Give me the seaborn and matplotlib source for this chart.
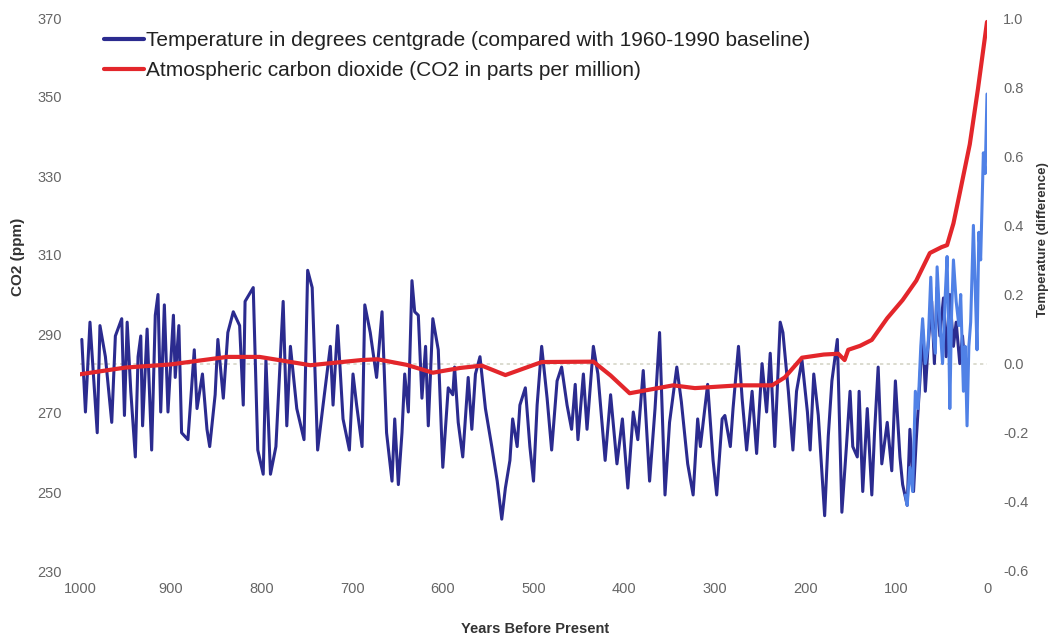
import matplotlib
matplotlib.use("Agg")
import matplotlib.pyplot as plt
from matplotlib.lines import Line2D
import seaborn as sns
import pandas as pd

# ---- data ----
proxy_years = [998, 994, 989, 981, 978, 972, 965, 961, 954, 951, 948, 944, 939, 936, 933, 931,
               926, 921, 917, 914, 911, 907, 903, 897, 895, 891, 888, 881, 874, 871, 865, 860,
               857, 851, 848, 842, 837, 831, 824, 820, 818, 809, 804, 798, 795, 790, 784, 776,
               772, 768, 761, 753, 749, 744, 738, 732, 724, 721, 716, 710, 703, 699, 695, 689,
               686, 680, 673, 667, 662, 656, 653, 649, 645, 642, 638, 634, 631, 627, 623, 619,
               616, 611, 605, 600, 594, 589, 587, 583, 578, 572, 568, 564, 559, 553, 546, 540,
               535, 531, 526, 523, 518, 515, 509, 504, 500, 496, 491, 485, 480, 474, 469, 463,
               458, 454, 451, 445, 441, 434, 429, 421, 415, 408, 402, 396, 390, 385, 379, 372,
               366, 361, 355, 350, 342, 337, 330, 324, 319, 316, 308, 302, 298, 292, 289, 283,
               280, 274, 270, 265, 259, 254, 248, 243, 239, 234, 228, 225, 219, 214, 210, 204,
               198, 195, 191, 186, 179, 175, 171, 165, 160, 155, 151, 148, 143, 141, 137, 132,
               127, 124, 120, 116, 110, 105, 101, 96, 93, 88, 85, 81, 78, 74, 71, 68,
               65, 61, 58, 55, 52, 48, 45, 41, 37, 34, 30, 27, 24]
proxy_temp = [0.07, -0.14, 0.12, -0.20, 0.11, 0.02, -0.17, 0.08, 0.13, -0.15, 0.12, -0.08, -0.27, 0.02, 0.08, -0.18,
              0.10, -0.25, 0.14, 0.20, -0.14, 0.17, -0.14, 0.14, -0.04, 0.11, -0.20, -0.22, 0.04, -0.13, -0.03, -0.19,
              -0.24, -0.09, 0.07, -0.10, 0.09, 0.15, 0.11, -0.12, 0.18, 0.22, -0.25, -0.32, 0.01, -0.32, -0.24, 0.18,
              -0.18, 0.05, -0.13, -0.22, 0.27, 0.22, -0.25, -0.12, 0.05, -0.12, 0.11, -0.16, -0.25, -0.03, -0.12, -0.24,
              0.17, 0.09, -0.04, 0.15, -0.20, -0.34, -0.16, -0.35, -0.20, -0.03, -0.14, 0.24, 0.15, 0.14, -0.10, 0.05,
              -0.18, 0.13, 0.04, -0.30, -0.07, -0.09, -0.01, -0.17, -0.27, -0.04, -0.19, -0.03, 0.02, -0.13, -0.24, -0.34,
              -0.45, -0.36, -0.28, -0.16, -0.24, -0.12, -0.07, -0.24, -0.34, -0.12, 0.05, -0.10, -0.25, -0.05, -0.01, -0.12,
              -0.19, -0.06, -0.22, -0.03, -0.19, 0.05, -0.03, -0.28, -0.09, -0.29, -0.16, -0.36, -0.14, -0.22, -0.02, -0.34,
              -0.13, 0.09, -0.38, -0.17, -0.01, -0.11, -0.29, -0.38, -0.16, -0.24, -0.06, -0.28, -0.38, -0.16, -0.15, -0.24,
              -0.13, 0.05, -0.10, -0.25, -0.08, -0.26, 0.00, -0.14, 0.03, -0.24, 0.12, 0.09, -0.08, -0.25, -0.08, 0.01,
              -0.14, -0.25, -0.03, -0.15, -0.44, -0.21, -0.05, 0.07, -0.43, -0.24, -0.08, -0.24, -0.27, -0.08, -0.37, -0.13,
              -0.38, -0.20, -0.01, -0.29, -0.17, -0.31, -0.05, -0.27, -0.35, -0.41, -0.19, -0.37, -0.22, -0.05, 0.10, -0.08,
              0.05, 0.18, 0.00, 0.22, 0.08, 0.19, 0.02, 0.20, 0.05, 0.12, 0.00, 0.08, -0.02]

instr_years = [90, 88, 85, 82, 79, 76, 73, 71, 68, 65, 62, 60, 57, 55, 52, 49, 46, 44, 42, 41,
               39, 37, 34, 31, 29, 26, 24, 22, 20, 18, 15, 13, 11, 9, 7, 4, 2, 0]
instr_temp = [-0.38, -0.41, -0.30, -0.37, -0.08, -0.13, 0.05, 0.13, 0.00, 0.05, 0.25, 0.10, 0.03, 0.28, 0.12, 0.00,
              0.20, 0.31, 0.05, -0.13, 0.15, 0.30, 0.18, 0.11, 0.20, -0.08, 0.05, -0.18, 0.05, 0.12, 0.40, 0.22,
              0.04, 0.38, 0.30, 0.61, 0.55, 0.78]

co2_years = [1000, 950, 900, 838, 802, 746, 690, 672, 640, 611, 581, 557, 531, 491, 434, 415, 394,
             346, 322, 274, 237, 223, 204, 180, 164, 157, 153, 140, 127, 110, 93, 78, 63, 50, 44,
             37, 30, 19, 10, 0]
co2_ppm = [279.8, 281.5, 282.3, 284.2, 284.2, 282.1, 283.4, 283.6, 282.2, 280.2, 281.4, 282.0, 279.6, 282.9, 283.0,
           279.5, 275.0, 277.0, 276.3, 277.0, 277.0, 279.0, 284.0, 284.8, 285.0, 283.4, 286.0, 287.0, 288.5, 294.0,
           298.6, 303.5, 310.5, 312.0, 312.5, 318.0, 325.7, 338.0, 352.0, 369.0]

co2_ticks = [230, 250, 270, 290, 310, 330, 350, 370]
temp_ticks = [-0.6, -0.4, -0.2, 0.0, 0.2, 0.4, 0.6, 0.8, 1.0]
year_ticks = [1000, 900, 800, 700, 600, 500, 400, 300, 200, 100, 0]

label_temp = "Temperature in degrees centgrade (compared with 1960-1990 baseline)"
label_co2 = "Atmospheric carbon dioxide (CO2 in parts per million)"

# ---- style ----
sns.set_theme(style="white")
plt.rcParams['font.family'] = ['Liberation Sans', 'DejaVu Sans']

DARK_BLUE = "#2b2b8f"
LIGHT_BLUE = "#5081e6"
RED = "#e3262b"
TICK_GREY = "#666666"

fig = plt.figure(figsize=(10.51, 6.37), dpi=100)
ax = fig.add_axes([80 / 1051, 1 - 571 / 637, 907 / 1051, 553 / 637])
ax2 = ax.twinx()

proxy_df = pd.DataFrame({"year": proxy_years, "temp": proxy_temp})
instr_df = pd.DataFrame({"year": instr_years, "temp": instr_temp})
co2_df = pd.DataFrame({"year": co2_years, "ppm": co2_ppm})

ax2.axhline(0, color="#d6d6c8", lw=1.2, ls=(0, (2, 2)), zorder=0)
sns.lineplot(data=proxy_df, x="year", y="temp", ax=ax2, color=DARK_BLUE, lw=2.2,
             estimator=None, sort=False, legend=False)
sns.lineplot(data=instr_df, x="year", y="temp", ax=ax2, color=LIGHT_BLUE, lw=2.2,
             estimator=None, sort=False, legend=False)
sns.lineplot(data=co2_df, x="year", y="ppm", ax=ax, color=RED, lw=3,
             estimator=None, sort=False, legend=False)

ax.set_zorder(ax2.get_zorder() + 1)
ax.patch.set_visible(False)

ax.set_xlim(1000, 0)
ax.set_ylim(230, 370)
ax2.set_ylim(-0.6, 1.0)

ax.set_xticks(year_ticks)
ax.set_xticklabels([str(t) for t in year_ticks])
ax.set_yticks(co2_ticks)
ax.set_yticklabels([str(t) for t in co2_ticks])
ax2.set_yticks(temp_ticks)
ax2.set_yticklabels([f"{t:.1f}" for t in temp_ticks])

for a in (ax, ax2):
    for s in a.spines.values():
        s.set_visible(False)
    a.grid(False)
ax.tick_params(axis="x", length=0, pad=8, labelsize=10.5, labelcolor=TICK_GREY)
ax.tick_params(axis="y", length=0, pad=13, labelsize=10.5, labelcolor=TICK_GREY)
ax2.tick_params(axis="y", length=0, pad=11.5, labelsize=10.5, labelcolor=TICK_GREY)

ax.set_xlabel("Years Before Present", fontsize=10.5, fontweight="bold", color="#333333")
ax.xaxis.set_label_coords(0.502, -0.092)
ax.set_ylabel("CO2 (ppm)", fontsize=11, fontweight="bold", color="#333333")
ax.yaxis.set_label_coords(-0.061, 0.568)
ax2.set_ylabel("Temperature (difference)", fontsize=9.5, fontweight="bold", color="#333333",
               rotation=90)
ax2.yaxis.set_label_coords(1.055, 0.60)

handles = [Line2D([], [], color=DARK_BLUE, lw=3), Line2D([], [], color=RED, lw=3)]
fig.legend(handles, [label_temp, label_co2], loc="upper left",
           bbox_to_anchor=(104 / 1051, 1 - 31 / 637), frameon=False, fontsize=15,
           handlelength=1.9, handletextpad=0.1, labelspacing=0.54, borderpad=0,
           borderaxespad=0, labelcolor="#222222")

fig.savefig("out.png", dpi=100, facecolor="white")
